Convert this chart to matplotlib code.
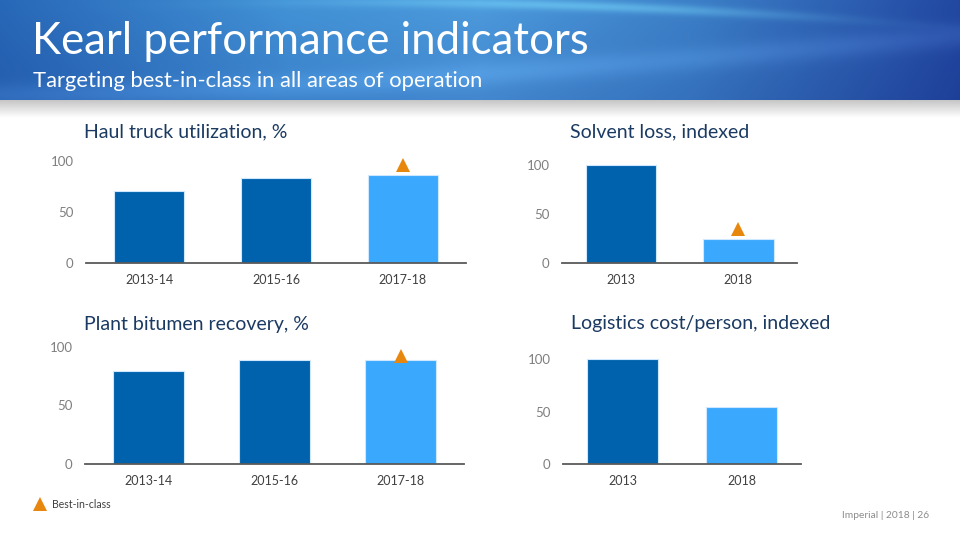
import numpy as np
import matplotlib
matplotlib.use("Agg")
import matplotlib.pyplot as plt

# ---------------- data ----------------
haul_cats = ["2013-14", "2015-16", "2017-18"]
haul_vals = [70, 83, 86]
haul_best_idx = 2
haul_best_y = 96

solvent_cats = ["2013", "2018"]
solvent_vals = [100, 24]
solvent_best_idx = 1
solvent_best_y = 35

plant_cats = ["2013-14", "2015-16", "2017-18"]
plant_vals = [79.5, 88.4, 88.7]
plant_best_idx = 2
plant_best_y = 92

logistics_cats = ["2013", "2018"]
logistics_vals = [100, 54]

yticks = [0, 50, 100]

title = "Kearl performance indicators"
subtitle = "Targeting best-in-class in all areas of operation"
panel_titles = ["Haul truck utilization, %", "Solvent loss, indexed",
                "Plant bitumen recovery, %", "Logistics cost/person, indexed"]
legend_label = "Best-in-class"
footer = "Imperial | 2018 | 26"

# ---------------- style ----------------
FONT = ["Lato", "DejaVu Sans"]
plt.rcParams["font.family"] = FONT
DARK = "#0062AD"
LIGHT = "#3AA8FC"
ORANGE = "#E8870E"
NAVY = "#1B3A62"
TICKGRAY = "#7F7F7F"
XLABEL = "#404040"

fig = plt.figure(figsize=(9.6, 5.4), dpi=100)
bg = fig.add_axes([0, 0, 1, 1], zorder=0)
bg.set_xlim(0, 960)
bg.set_ylim(540, 0)
bg.axis("off")

# banner gradient
W, H = 960, 100
xs = np.linspace(0, 1, W)
ys = np.linspace(0, 1, H)[:, None]
kx = [0.0, 0.3, 0.5, 0.72, 1.0]
cr = [40, 66, 76, 60, 34]
cg = [104, 146, 154, 128, 72]
cb = [184, 214, 220, 200, 162]
R = np.interp(xs, kx, cr)[None, :] * (1 - 0.12 * ys)
G = np.interp(xs, kx, cg)[None, :] * (1 - 0.12 * ys)
B = np.interp(xs, kx, cb)[None, :] * (1 - 0.06 * ys)
img = np.dstack([R, G, B]) / 255.0
X, Y = np.meshgrid(np.arange(W), np.arange(H))
curve = 2 + 18 * ((X - 360) / 500.0) ** 2
band = np.exp(-((Y - curve) / 5.0) ** 2) * np.exp(-((X - 560) / 220.0) ** 2)
img = img * (1 - 0.6 * band[..., None]) + np.array([0.45, 0.82, 0.97]) * 0.6 * band[..., None]
curve2 = 95 - 60 * (X / 960.0) ** 1.5
band2 = np.exp(-((Y - curve2) / 12.0) ** 2) * 0.18
img = np.clip(img + band2[..., None] * np.array([0.3, 0.35, 0.35]), 0, 1)
bg.imshow(img, extent=[0, 960, 100, 0], aspect="auto", zorder=1)
sh = np.linspace(0.78, 1.0, 18)[:, None, None] * np.ones((1, 4, 3))
bg.imshow(sh, extent=[0, 960, 118, 100], aspect="auto", zorder=1)

bg.text(32, 54, title, color="white", fontsize=31.5, va="baseline", ha="left", zorder=3)
bg.text(33, 87, subtitle, color="white", fontsize=15.8, va="baseline", ha="left", zorder=3)

# legend & footer
bg.plot([39.5], [504], marker="^", ms=10, color=ORANGE, mew=0, zorder=3)
bg.text(52, 505, legend_label, fontsize=7.6, color="#404040", va="center", ha="left", zorder=3)
bg.text(929, 516, footer, fontsize=7.4, color="#8C8C8C", va="center", ha="right", zorder=3)


def panel(rect, cats, vals, width, ptitle, tpos, best_idx=None, best_y=None):
    ax = fig.add_axes(rect, zorder=2)
    ax.patch.set_alpha(0)
    x = np.arange(len(cats))
    colors = [DARK] * (len(cats) - 1) + [LIGHT]
    ax.bar(x, vals, width=width, color=colors, edgecolor="#CFE8FF", linewidth=0.8, zorder=2)
    if best_idx is not None:
        ax.plot([x[best_idx]], [best_y], marker="^", ms=10, color=ORANGE, mew=0,
                clip_on=False, zorder=3)
    ax.set_xlim(-0.5, len(cats) - 0.5)
    ax.set_ylim(0, 105)
    ax.set_yticks(yticks)
    ax.set_xticks(x)
    ax.set_xticklabels(cats)
    for s in ["top", "right", "left"]:
        ax.spines[s].set_visible(False)
    ax.spines["bottom"].set_color("#595959")
    ax.spines["bottom"].set_linewidth(1.3)
    ax.tick_params(axis="both", length=0)
    ax.tick_params(axis="y", pad=9, labelsize=9.5, labelcolor=TICKGRAY)
    ax.tick_params(axis="x", pad=8, labelsize=9, labelcolor=XLABEL)
    bg.text(tpos[0], tpos[1], ptitle, fontsize=14, color=NAVY, va="baseline", ha="left", zorder=3)
    return ax


panel([86 / 960, 1 - 262.7 / 540, 380 / 960, 107.1 / 540], haul_cats, haul_vals, 0.55,
      panel_titles[0], (84, 137), haul_best_idx, haul_best_y)
panel([562 / 960, 1 - 262.7 / 540, 235 / 960, 102.6 / 540], solvent_cats, solvent_vals, 0.6,
      panel_titles[1], (570, 137), solvent_best_idx, solvent_best_y)
panel([85 / 960, 1 - 464 / 540, 379 / 960, 123.2 / 540], plant_cats, plant_vals, 0.56,
      panel_titles[2], (84, 330), plant_best_idx, plant_best_y)
panel([563 / 960, 1 - 464 / 540, 238 / 960, 110 / 540], logistics_cats, logistics_vals, 0.6,
      panel_titles[3], (571, 329))

fig.savefig("out.png", dpi=100)
